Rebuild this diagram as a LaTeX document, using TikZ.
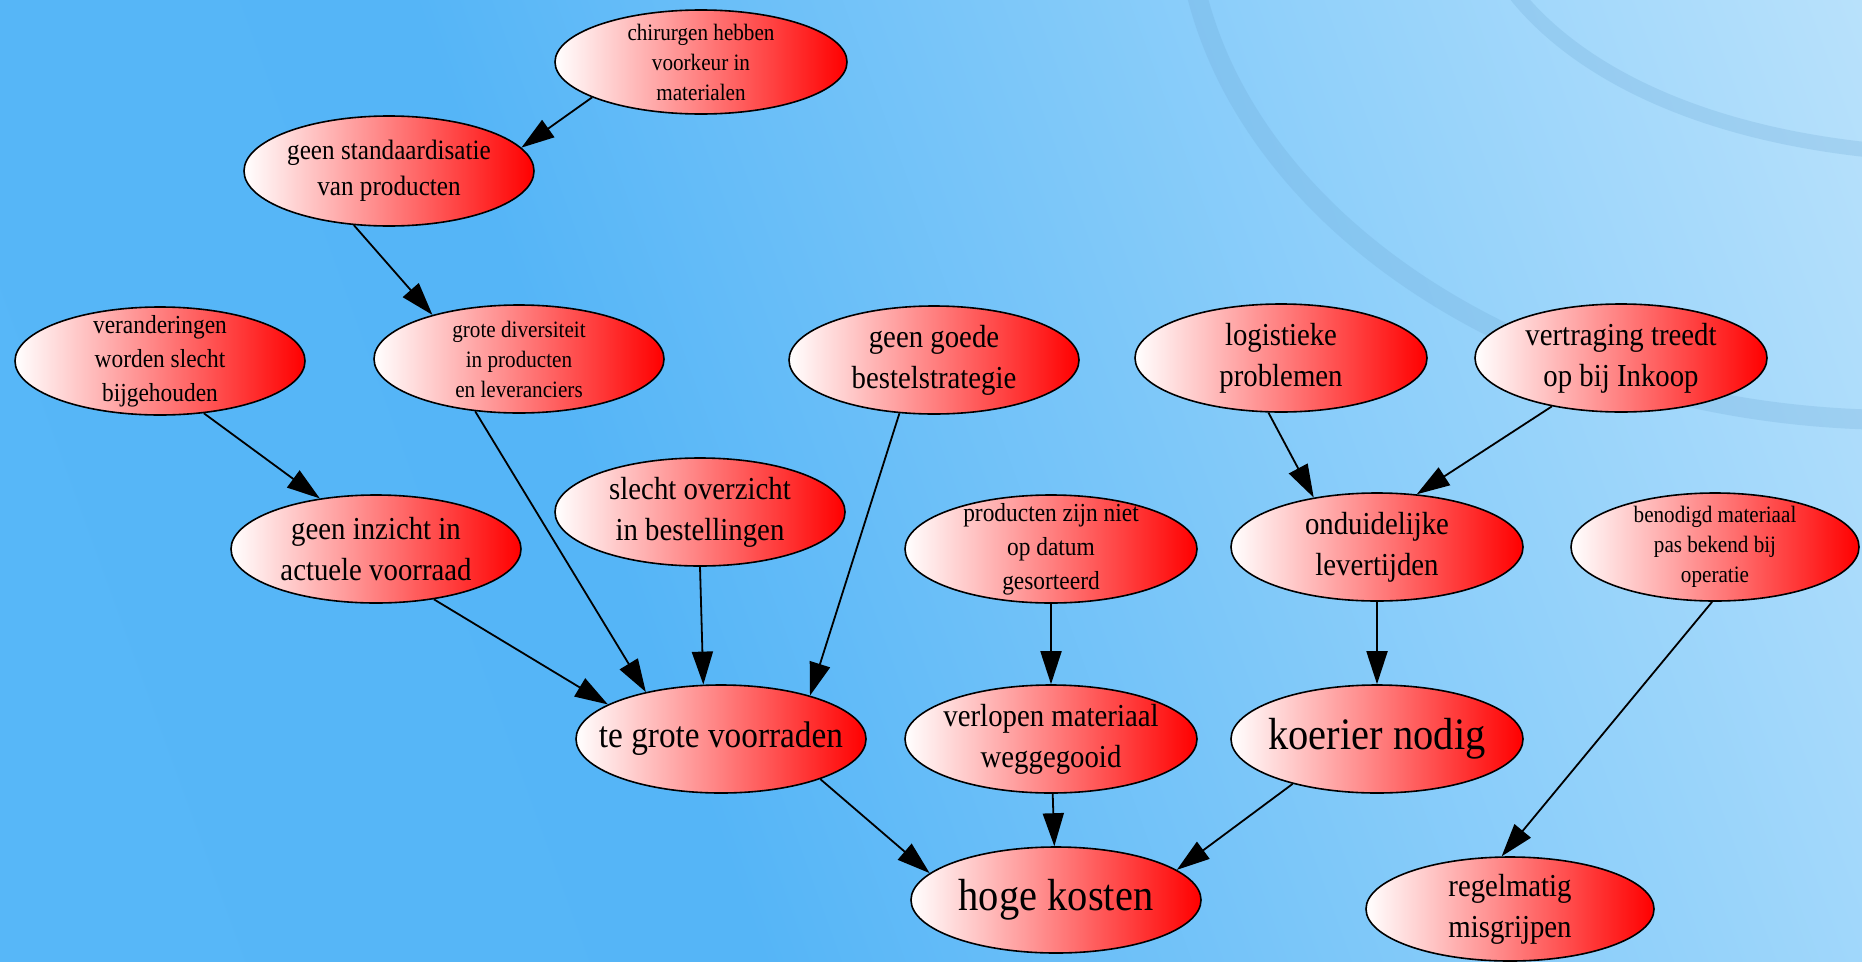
\documentclass[tikz,border=0pt]{standalone}
\usepackage{fontspec}
\setmainfont{Liberation Serif}[FakeStretch=0.9]
\usetikzlibrary{shapes.geometric,arrows.meta}
\definecolor{bg0}{HTML}{6EC3F9}
\definecolor{bg1}{HTML}{58B8F8}
\definecolor{bg2}{HTML}{55B5F7}
\definecolor{bg3}{HTML}{90D0FA}
\definecolor{bg4}{HTML}{C6E7FC}
\definecolor{bg5}{HTML}{DDF1FD}
\definecolor{arccol}{HTML}{6FA9D6}
\pgfdeclarehorizontalshading{bgshade}{100bp}{color(0bp)=(bg0); color(10bp)=(bg1); color(40bp)=(bg2); color(65bp)=(bg3); color(88bp)=(bg4); color(100bp)=(bg5)}
\tikzset{
  bub/.style={ellipse, draw=black, line width=1.6pt, left color=white, right color=red,
    minimum width=290pt, minimum height=108pt, inner sep=-80pt, align=center, text=black},
  fsm/.style={font=\fontsize{23.5}{30}\selectfont},
  fsmb/.style={font=\fontsize{26}{34}\selectfont},
  fst/.style={font=\fontsize{28}{36}\selectfont},
  fmd/.style={font=\fontsize{32}{41}\selectfont},
  flg/.style={font=\fontsize{37}{44}\selectfont},
  fxl/.style={font=\fontsize{45}{54}\selectfont},
  con/.style={line width=1.8pt, draw=black, -{Triangle[length=33pt,width=21pt]}},
  swoosh/.style={draw=arccol, draw opacity=0.25, line width=20pt},
}
\begin{document}
\begin{tikzpicture}[x=1pt,y=-1pt]
\useasboundingbox (0,0) rectangle (1862,961);
\shade[shading=bgshade, shading angle=20] (0,0) rectangle (1862,961);
% decorative swooshes
\begin{scope}
\clip (0,0) rectangle (1862,961);
\path[swoosh] (1185,-100) .. controls (1185,187) and (1505,420) .. (1900,420);
\path[swoosh, line width=15pt] (1505,-20) .. controls (1560,60) and (1680,130) .. (1870,150);
\end{scope}
% nodes
\node[bub, fsm, minimum height=104pt, minimum width=292pt] (A) at (701,62) {chirurgen hebben\\voorkeur in\\materialen};
\node[bub, fst, minimum height=110pt] (B) at (389,171) {geen standaardisatie\\van producten};
\node[bub, fsmb] (C) at (160,361) {veranderingen\\worden slecht\\bijgehouden};
\node[bub, fsm] (D) at (519,359) {grote diversiteit\\in producten\\en leveranciers};
\node[bub, fmd] (E) at (934,360) {geen goede\\bestelstrategie};
\node[bub, fmd, minimum width=292pt] (F) at (1281,358) {logistieke\\problemen};
\node[bub, fmd, minimum width=292pt] (G) at (1621,358) {vertraging treedt\\op bij Inkoop};
\node[bub, fmd] (H) at (376,549) {geen inzicht in\\actuele voorraad};
\node[bub, fmd] (I) at (700,512) {slecht overzicht\\in bestellingen};
\node[bub, fsmb, minimum width=292pt] (J) at (1051,549) {producten zijn niet\\op datum\\gesorteerd};
\node[bub, fmd, minimum width=292pt] (K) at (1377,547) {onduidelijke\\levertijden};
\node[bub, fsm, minimum width=288pt] (L) at (1715,547) {benodigd materiaal\\pas bekend bij\\operatie};
\node[bub, flg] (M) at (721,739) {te grote voorraden};
\node[bub, fmd, minimum width=292pt] (N) at (1051,739) {verlopen materiaal\\weggegooid};
\node[bub, fxl, minimum width=292pt] (O) at (1377,739) {koerier nodig};
\node[bub, fxl, minimum height=106pt] (P) at (1056,900) {hoge kosten};
\node[bub, fmd, minimum width=288pt, minimum height=104pt] (Q) at (1510,909) {regelmatig\\misgrijpen};
% connectors
\draw[con] (A.198) -- (B.10);
\draw[con] (B.237) -- (D.153);
\draw[con] (C.310) -- (H.138);
\draw[con] (D.230) -- (M.148);
\draw[con] (I.south) -- (M.108);
\draw[con] (E.237) -- (M.26);
\draw[con] (H.319) -- (M.163);
\draw[con] (J) -- (N);
\draw[con] (F.257) -- (K.142);
\draw[con] (G.215) -- (K.53);
\draw[con] (K) -- (O);
\draw[con] (M.338) -- (P.168);
\draw[con] (N) -- (P);
\draw[con] (O.208) -- (P.14);
\draw[con] (L.267) -- (Q.99);
\end{tikzpicture}
\end{document}
